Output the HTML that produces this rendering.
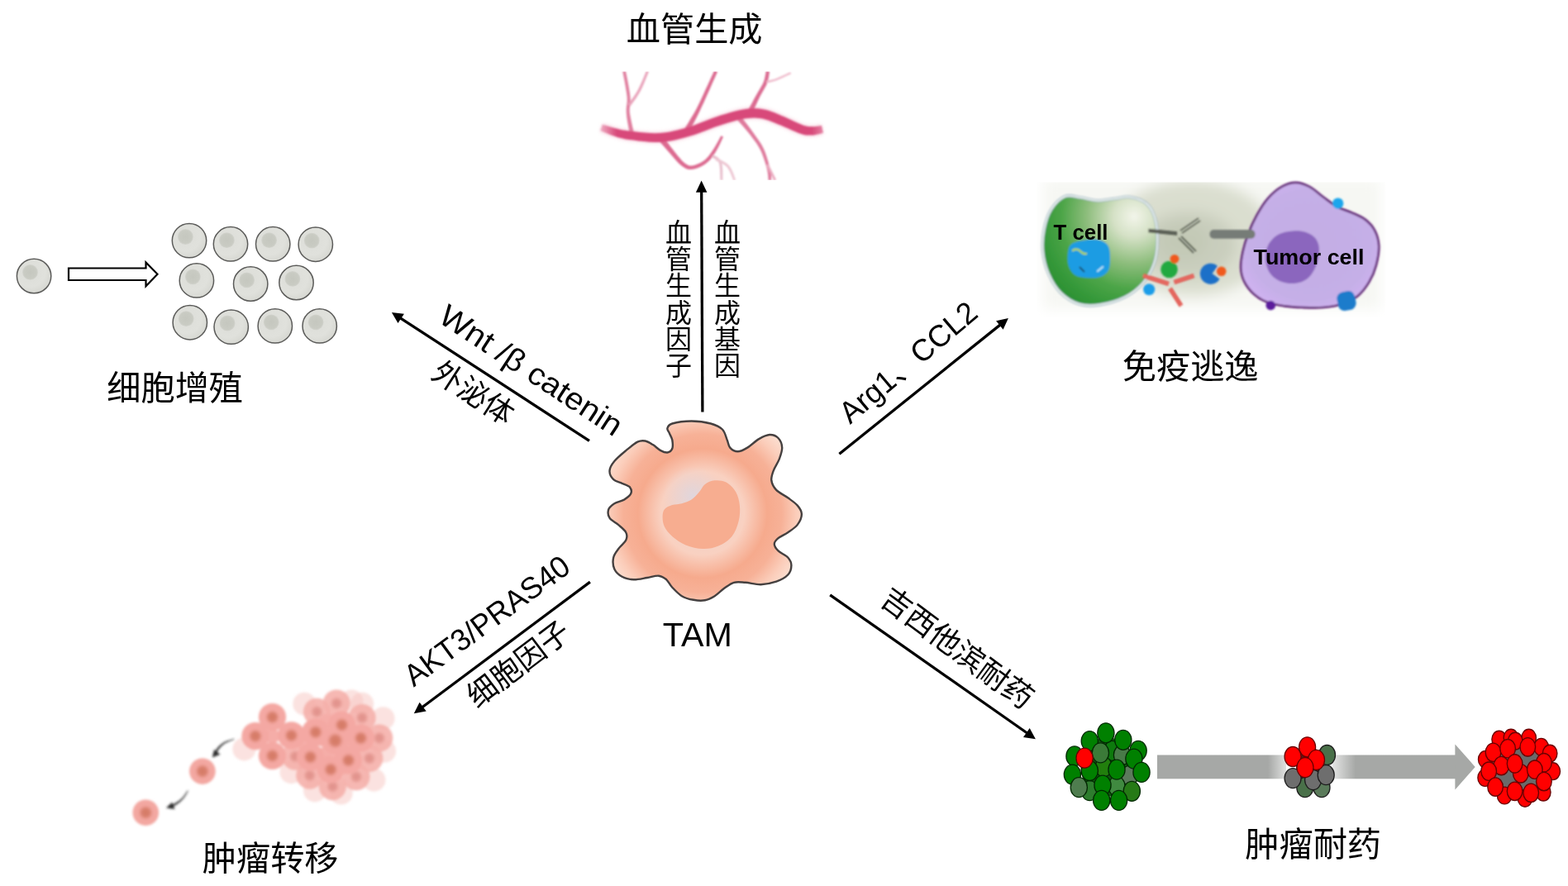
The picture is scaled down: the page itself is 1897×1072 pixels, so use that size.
<!DOCTYPE html>
<html lang="zh-CN">
<head>
<meta charset="utf-8">
<title>TAM</title>
<style>
html,body{margin:0;padding:0;background:#fff;}
body{width:1897px;height:1072px;overflow:hidden;}
svg{display:block;position:absolute;left:0;top:0;}
text{font-family:"Liberation Sans", "Noto Sans CJK SC", sans-serif;fill:#000;}
.cjk{font-family:"Liberation Sans","Noto Sans CJK SC",sans-serif;}
.b{font-weight:bold;}
</style>
</head>
<body>
<svg width="1897" height="1072" viewBox="0 0 1897 1072">
<defs>
<filter id="bl1" x="-10%" y="-30%" width="120%" height="160%"><feGaussianBlur stdDeviation="1.25"/></filter>
<filter id="bl2" x="-10%" y="-30%" width="120%" height="160%"><feGaussianBlur stdDeviation="2.2"/></filter>
<linearGradient id="gv" gradientUnits="userSpaceOnUse" x1="727" y1="0" x2="996" y2="0"><stop offset="0" stop-color="#d84a7a" stop-opacity="0.35"/><stop offset="0.07" stop-color="#d84a7a"/><stop offset="0.95" stop-color="#d84a7a"/><stop offset="1" stop-color="#d84a7a" stop-opacity="0.6"/></linearGradient>
<clipPath id="vclip"><rect x="722" y="86.5" width="280" height="131.5"/></clipPath>
<radialGradient id="gc" cx="0.38" cy="0.36" r="0.75">
<stop offset="0" stop-color="#dcddd8"/><stop offset="0.6" stop-color="#e0e1dc"/><stop offset="1" stop-color="#d3d4ce"/>
</radialGradient>
<radialGradient id="gn" cx="0.5" cy="0.5" r="0.5">
<stop offset="0" stop-color="#c5c7bf"/><stop offset="0.8" stop-color="#c9cbc3"/><stop offset="1" stop-color="#d2d3cd"/>
</radialGradient>
<filter id="blimg" x="-5%" y="-5%" width="110%" height="110%"><feGaussianBlur stdDeviation="0.8"/></filter>
<filter id="blbg" x="-20%" y="-20%" width="140%" height="140%"><feGaussianBlur stdDeviation="8"/></filter>
<filter id="bltx" x="-5%" y="-20%" width="110%" height="140%"><feGaussianBlur stdDeviation="0.55"/></filter>
<radialGradient id="gT" gradientUnits="userSpaceOnUse" cx="1372" cy="262" r="125">
<stop offset="0" stop-color="#f2f5ea"/><stop offset="0.2" stop-color="#d5e1c6"/><stop offset="0.46" stop-color="#8dbd7c"/><stop offset="0.7" stop-color="#4da548"/><stop offset="0.88" stop-color="#36993a"/><stop offset="1" stop-color="#2c9133"/>
</radialGradient>
<clipPath id="imclip"><rect x="1254" y="220.5" width="422" height="164"/></clipPath>
<radialGradient id="gTu" cx="0.5" cy="0.5" r="0.55">
<stop offset="0" stop-color="#c3aee4"/><stop offset="0.8" stop-color="#c5afe7"/><stop offset="1" stop-color="#cfb2f0"/>
</radialGradient>
<radialGradient id="gTam" gradientUnits="userSpaceOnUse" cx="850" cy="621" r="126">
<stop offset="0" stop-color="#f1d3ca"/><stop offset="0.28" stop-color="#f4d1c5"/><stop offset="0.40" stop-color="#f9d1c1"/><stop offset="0.50" stop-color="#f8bfa9"/><stop offset="0.62" stop-color="#f6aa8d"/><stop offset="0.76" stop-color="#f7b197"/><stop offset="0.9" stop-color="#fbcdba"/><stop offset="1" stop-color="#fcdccd"/>
</radialGradient>
<radialGradient id="gTamN" gradientUnits="userSpaceOnUse" cx="838" cy="600" r="36">
<stop offset="0" stop-color="#dfd6dd" stop-opacity="0.95"/><stop offset="1" stop-color="#e8d5d6" stop-opacity="0"/>
</radialGradient>
<filter id="bltam" x="-5%" y="-5%" width="110%" height="110%"><feGaussianBlur stdDeviation="0.6"/></filter>
<filter id="blm" x="-10%" y="-10%" width="120%" height="120%"><feGaussianBlur stdDeviation="1.6"/></filter>
<radialGradient id="gmn"><stop offset="0" stop-color="#d47863"/><stop offset="0.55" stop-color="#da8270"/><stop offset="1" stop-color="#f0a199" stop-opacity="0.2"/></radialGradient>
<radialGradient id="gmn2"><stop offset="0" stop-color="#e0908a"/><stop offset="0.55" stop-color="#e59a93"/><stop offset="1" stop-color="#f3aca6" stop-opacity="0.1"/></radialGradient>
<filter id="blr" x="-10%" y="-10%" width="120%" height="120%"><feGaussianBlur stdDeviation="0.6"/></filter>
<linearGradient id="gbar1" gradientUnits="userSpaceOnUse" x1="1400" y1="0" x2="1556" y2="0"><stop offset="0" stop-color="#a6a8a6"/><stop offset="0.86" stop-color="#a6a8a6"/><stop offset="1" stop-color="#a6a8a6" stop-opacity="0.35"/></linearGradient>
<linearGradient id="gbar2" gradientUnits="userSpaceOnUse" x1="1612" y1="0" x2="1640" y2="0"><stop offset="0" stop-color="#a6a8a6" stop-opacity="0.3"/><stop offset="1" stop-color="#a6a8a6"/></linearGradient>

</defs>
<g id="vessel" clip-path="url(#vclip)">
<path d="M725.7 159.3L728 160.3L731.3 161.7L735.3 163.3L739.4 164.9L743.3 166.3L746.5 167.3L749.5 168.1L752.7 169L756.6 169.7L761.4 170.4L767.5 171.2L774.7 172.1L782.7 173L791 173.5L799 173.4L806.6 172.6L813.9 171.4L821.2 169.8L828.3 168L835.4 166L842.7 163.7L850 161L857 158.2L863.9 155.6L870.4 153.3L877 151.3L883.5 149.3L889.7 147.5L895.6 146.1L901 145.1L905.8 144.5L910.1 144.2L914.1 144.2L918.1 144.5L922.1 145.1L926.2 146L930.5 147.4L935 149.2L939.7 151.2L944.5 153.1L949.3 155.2L954.3 157.4L959.4 159.7L964.4 161.8L968.9 163.5L972.9 164.5L976.3 165L979.4 165.1L981.9 165L984.4 164.9L987.3 164.5L990.3 163.9L992.9 163.2L994.9 162.6L996.3 162.2L993.7 150.4L992.2 150.7L990.1 151L987.9 151.4L985.7 151.7L983.6 151.7L981.5 151.8L979.6 151.8L977.8 151.6L975.8 151.3L973.1 150.5L969.5 149.2L965.1 147.2L960.1 144.8L954.9 142.4L949.9 140.3L945.2 138.2L940.4 136.1L935.5 134.1L930.3 132.3L924.9 130.9L919.7 130.2L914.7 129.8L909.6 129.8L904.3 130.1L898.6 130.9L892.5 132.1L886 133.8L879.4 135.7L872.7 137.9L866 140.1L859 142.5L852 145.3L845 148L838.1 150.6L831.4 152.8L824.7 154.7L818 156.4L811.3 157.9L804.8 159L798.2 159.6L791.3 159.7L783.8 159.4L776.2 158.7L769.1 157.9L763 157.2L758.5 156.7L755.2 156.2L752.5 155.7L749.8 155.1L746.7 154.3L743.1 153.4L739.1 152.3L735.2 151.1L731.8 150L729.3 149.3Z" fill="#f3b3c7" opacity="0.5" filter="url(#bl2)"/>
<g filter="url(#bl1)">
<path d="M767.5 163L766.6 159.2L765.3 153.7L763.9 147.5L762.7 141.4L761.8 136.2L761.7 132.3L762 129L762.4 125.7L762.7 121.9L762.5 117.2L761.7 111.1L760.5 103.9L759.1 96.5L757.8 90.1L756.9 85.7L753.3 86.3L754.1 90.8L755.4 97.3L756.7 104.6L757.9 111.7L758.7 117.6L758.8 121.8L758.5 125.3L758 128.6L757.7 132.2L757.8 136.6L758.3 142.1L759.3 148.4L760.5 154.7L761.5 160.2L762.1 164Z" fill="#e07f9f"/>
<path d="M762.7 128.5L764.3 126.1L766.7 122.8L769.4 118.9L772.2 114.6L774.8 110.3L777.1 105.5L779.5 100L781.7 94.6L783.6 89.9L784.9 86.6L782.1 85.4L780.7 88.7L778.8 93.4L776.5 98.7L774.1 104.1L771.8 108.7L769.4 112.8L766.6 116.9L763.8 120.8L761.4 124L759.7 126.3Z" fill="#e9a4bb"/>
<path d="M832.6 162.1L834.4 158.3L837.2 152.8L840.5 146.6L843.7 140.2L846.5 134.4L848.9 129.3L851.2 124.5L853.3 119.8L855.4 115.1L857.5 110.4L859.8 105.3L862.2 99.8L864.6 94.6L866.6 90L868.1 86.8L864.3 85.2L862.9 88.3L860.8 92.8L858.4 98.1L855.9 103.5L853.5 108.6L851.4 113.3L849.2 117.9L847.1 122.6L844.8 127.3L842.3 132.2L839.2 137.7L835.5 143.8L831.9 149.9L828.7 155.1L826.4 158.7Z" fill="#dc6a90"/>
<path d="M909.5 138.8L910.8 135.7L912.7 131.3L915 126.3L917.3 121.3L919.3 117L921.2 113.5L923.1 110.2L924.9 107.1L926.6 104L928 100.8L929.1 97.5L929.9 94L930.4 90.9L930.8 88.2L931.1 86.4L926.9 85.6L926.5 87.5L926.1 90.1L925.5 93.1L924.8 96.3L923.8 99.2L922.5 102L920.9 104.8L919.1 107.9L917.1 111.2L915.1 114.8L912.7 119L910.1 123.9L907.5 128.7L905.2 132.9L903.5 135.8Z" fill="#db6c92"/>
<path d="M927.5 100.6L929 100.2L931.2 99.8L933.8 99.1L936.7 98.3L939.7 97.3L943.2 95.8L947.2 94L951.2 92.1L954.7 90.4L957.2 89.2L956.2 87.2L953.7 88.3L950.2 89.9L946.2 91.8L942.2 93.6L938.9 94.9L936 95.9L933.2 96.6L930.6 97.2L928.5 97.6L926.9 98Z" fill="#efbacb"/>
<path d="M794.6 167.5L796.9 170L800 173.6L803.7 177.8L807.4 182L810.7 185.7L813.5 188.9L816.1 192.1L818.7 195L821.3 197.7L823.9 200L826.3 201.8L828.6 203.2L831 204.4L833.7 205L836.7 205L839.9 204.5L843.4 203.5L847 202L850.4 200.2L853.5 198.3L856.2 196.1L858.7 193.7L860.9 191L863 188.1L865.1 185L867.3 181.2L869.7 176.7L871.9 172.2L873.7 168.3L875 165.6L872.4 164.2L870.9 166.9L868.9 170.7L866.5 175L864 179.2L861.7 182.8L859.6 185.7L857.6 188.4L855.6 190.8L853.4 192.9L851.1 194.7L848.3 196.4L845.2 198L842 199.3L838.9 200.2L836.3 200.6L834.3 200.4L832.6 200L831 199.1L829.1 197.9L827.1 196.2L824.9 194.2L822.6 191.6L820.2 188.7L817.6 185.5L814.9 182.1L811.9 178.3L808.6 173.8L805.3 169.4L802.4 165.5L800.4 162.7Z" fill="#dc6a90"/>
<path d="M860.9 190.1L862.4 191L864.4 192L866.6 193.3L868.5 195L869.8 197.1L870.6 200.5L871 205.2L871.2 210.3L871.3 214.9L871.5 218L874.3 218L874.3 214.8L874.3 210.3L874.2 205.1L873.7 200L872.8 195.9L871 192.9L868.6 190.6L866.1 189.1L864.1 187.9L862.7 187.1Z" fill="#e8bfcd"/>
<path d="M865.4 193.9L867.6 194.9L870.6 196.4L873.9 198.1L877.1 200.1L879.6 202.3L881.6 205.2L883.5 208.8L885.1 212.7L886.4 216.1L887.4 218.5L890 217.5L889 215.1L887.8 211.6L886.2 207.6L884.2 203.6L882 200.3L879 197.6L875.5 195.4L872 193.5L869 192L867 190.9Z" fill="#edc6d2"/>
<path d="M890 142.9L892.5 145.6L896 149.6L900 154.1L904 158.8L907.5 163.1L910.4 166.9L913.1 170.5L915.6 174L917.9 177.7L920 181.6L922 186L923.8 191L925.5 196L926.9 200.7L928 204.8L928.7 208.3L929.2 211.4L929.4 214.1L929.5 216.4L929.7 218.1L933.1 217.9L933.1 216.2L933 213.9L932.8 211L932.4 207.7L931.6 204L930.5 199.7L929.2 194.9L927.6 189.7L925.8 184.6L923.8 179.8L921.6 175.6L919.2 171.7L916.6 167.9L913.9 164.2L911.1 160.3L907.9 155.8L904.1 150.8L900.4 145.9L897.2 141.7L895 138.7Z" fill="#df7a9c"/>
<path d="M926.8 200L928.3 202.8L930.4 207L932.8 211.6L934.9 215.8L936.4 218.7L939 217.3L937.6 214.5L935.5 210.3L933.1 205.6L931 201.4L929.6 198.6Z" fill="#eaaabf"/>
<path d="M726.2 157.9L728.1 158.7L730.6 159.8L733.7 161.1L737.1 162.4L740.5 163.7L743.7 164.8L746.4 165.7L748.8 166.4L751.4 167.1L754.2 167.7L757.5 168.4L761.6 169L766.5 169.6L772.4 170.4L778.8 171.1L785.5 171.7L792.3 172L798.9 171.9L805.1 171.3L811.3 170.4L817.3 169.2L823.2 167.8L829 166.2L834.9 164.6L841 162.7L847 160.5L853 158.2L858.8 155.9L864.5 153.8L869.9 151.9L875.4 150.2L880.9 148.5L886.2 146.9L891.4 145.6L896.2 144.4L900.7 143.6L904.9 143.1L908.6 142.7L912.1 142.6L915.5 142.7L918.9 143.1L922.4 143.6L925.9 144.4L929.5 145.5L933.3 146.9L937.1 148.5L941.1 150.2L945.1 151.8L949.1 153.4L953.3 155.3L957.5 157.2L961.7 159.1L965.7 160.7L969.4 162L972.6 162.9L975.5 163.4L978 163.6L980.3 163.6L982.3 163.5L984.3 163.4L986.7 163.1L989.1 162.6L991.3 162.1L993.3 161.5L994.9 161L996 160.7L994 151.9L992.8 152.1L991.1 152.4L989.3 152.7L987.4 153L985.5 153.2L983.7 153.2L981.9 153.2L980.2 153.3L978.6 153.2L977 153L975 152.6L972.6 152L969.6 150.8L966 149.3L962 147.4L957.8 145.4L953.5 143.4L949.3 141.6L945.4 140L941.5 138.2L937.4 136.5L933.3 134.9L929 133.5L924.6 132.4L920.4 131.7L916.3 131.3L912.1 131.2L907.9 131.3L903.6 131.7L898.9 132.4L893.8 133.4L888.6 134.7L883.1 136.2L877.6 137.9L872.1 139.6L866.5 141.5L860.7 143.5L854.9 145.7L849 148.1L843.2 150.3L837.5 152.4L831.9 154.2L826.2 155.8L820.5 157.3L814.9 158.6L809.4 159.7L803.8 160.6L798.3 161.1L792.5 161.3L786.2 161L779.8 160.5L773.6 159.9L767.8 159.2L762.8 158.6L758.9 158.2L755.9 157.8L753.5 157.4L751.3 157L748.9 156.4L746.3 155.8L743.3 155L740 154.1L736.6 153.1L733.5 152.1L730.8 151.3L728.8 150.7Z" fill="url(#gv)"/>
</g></g>
<g id="prolif">
<circle cx="41.1" cy="334" r="20.7" fill="url(#gc)" stroke="#5b5b59" stroke-width="1.5"/><circle cx="36.5" cy="329.4" r="9.4" fill="url(#gn)"/>
<circle cx="229" cy="291.1" r="20.7" fill="url(#gc)" stroke="#5b5b59" stroke-width="1.5"/><circle cx="224.4" cy="286.5" r="9.4" fill="url(#gn)"/>
<circle cx="279" cy="295.3" r="20.7" fill="url(#gc)" stroke="#5b5b59" stroke-width="1.5"/><circle cx="274.4" cy="290.7" r="9.4" fill="url(#gn)"/>
<circle cx="330.2" cy="295.3" r="20.7" fill="url(#gc)" stroke="#5b5b59" stroke-width="1.5"/><circle cx="325.6" cy="290.7" r="9.4" fill="url(#gn)"/>
<circle cx="381.8" cy="295.7" r="20.7" fill="url(#gc)" stroke="#5b5b59" stroke-width="1.5"/><circle cx="377.2" cy="291.1" r="9.4" fill="url(#gn)"/>
<circle cx="237.9" cy="339.4" r="20.7" fill="url(#gc)" stroke="#5b5b59" stroke-width="1.5"/><circle cx="233.3" cy="334.8" r="9.4" fill="url(#gn)"/>
<circle cx="303.2" cy="343.5" r="20.7" fill="url(#gc)" stroke="#5b5b59" stroke-width="1.5"/><circle cx="298.6" cy="338.9" r="9.4" fill="url(#gn)"/>
<circle cx="358.5" cy="342" r="20.7" fill="url(#gc)" stroke="#5b5b59" stroke-width="1.5"/><circle cx="353.9" cy="337.4" r="9.4" fill="url(#gn)"/>
<circle cx="229.8" cy="390.2" r="20.7" fill="url(#gc)" stroke="#5b5b59" stroke-width="1.5"/><circle cx="225.2" cy="385.6" r="9.4" fill="url(#gn)"/>
<circle cx="279.7" cy="395.6" r="20.7" fill="url(#gc)" stroke="#5b5b59" stroke-width="1.5"/><circle cx="275.1" cy="391" r="9.4" fill="url(#gn)"/>
<circle cx="332.8" cy="394.4" r="20.7" fill="url(#gc)" stroke="#5b5b59" stroke-width="1.5"/><circle cx="328.2" cy="389.8" r="9.4" fill="url(#gn)"/>
<circle cx="386.7" cy="394.4" r="20.7" fill="url(#gc)" stroke="#5b5b59" stroke-width="1.5"/><circle cx="382.1" cy="389.8" r="9.4" fill="url(#gn)"/>
<path d="M83 324.5H176.5V317.5L190.5 331.8L176.5 346.2V339H83Z" fill="#fff" stroke="#000" stroke-width="2.2" stroke-linejoin="miter"/>
</g>
<g id="immune">
<g clip-path="url(#imclip)"><g filter="url(#blbg)"><rect x="1262" y="216" width="408" height="158" fill="#f6f7f3"/><ellipse cx="1442" cy="288" rx="100" ry="70" fill="#dadecf"/><ellipse cx="1438" cy="296" rx="58" ry="40" fill="#c9cebd"/><ellipse cx="1432" cy="292" rx="30" ry="22" fill="#c3c9b6"/></g></g>
<g filter="url(#blimg)">
<path d="M1288.6 237.7C1294.5 235.3 1300.6 238.2 1307 239C1313.4 239.8 1320.4 242.4 1327.2 242.7C1334 242.9 1341.3 241.2 1348 240.5C1354.7 239.8 1360.9 237.4 1367.5 238.5C1374.1 239.6 1382.7 242.4 1387.7 246.9C1392.7 251.4 1395.6 257.6 1397.7 265.4C1399.8 273.2 1400.5 284.9 1400.2 293.9C1399.9 302.8 1398.9 311 1396 319.1C1393.1 327.2 1388.5 335.9 1382.6 342.6C1376.7 349.3 1369.5 355.1 1360.8 359.4C1352.1 363.7 1339.8 367.2 1330.6 368.6C1321.4 370 1313.2 370.2 1305.4 367.8C1297.6 365.4 1289.8 360.5 1283.6 354.4C1277.4 348.2 1272.1 339.3 1268.5 330.9C1264.9 322.5 1262.6 313 1261.8 304C1261 295 1261.7 285.5 1263.4 277.1C1265.1 268.7 1267.6 260.2 1271.8 253.6C1276 247 1282.7 240.1 1288.6 237.7Z" fill="url(#gT)" stroke="#9db6c2" stroke-width="3.6"/>
<path d="M1288.6 237.7C1294.5 235.3 1300.6 238.2 1307 239C1313.4 239.8 1320.4 242.4 1327.2 242.7C1334 242.9 1341.3 241.2 1348 240.5C1354.7 239.8 1360.9 237.4 1367.5 238.5C1374.1 239.6 1382.7 242.4 1387.7 246.9C1392.7 251.4 1395.6 257.6 1397.7 265.4C1399.8 273.2 1400.5 284.9 1400.2 293.9C1399.9 302.8 1398.9 311 1396 319.1C1393.1 327.2 1388.5 335.9 1382.6 342.6C1376.7 349.3 1369.5 355.1 1360.8 359.4C1352.1 363.7 1339.8 367.2 1330.6 368.6C1321.4 370 1313.2 370.2 1305.4 367.8C1297.6 365.4 1289.8 360.5 1283.6 354.4C1277.4 348.2 1272.1 339.3 1268.5 330.9C1264.9 322.5 1262.6 313 1261.8 304C1261 295 1261.7 285.5 1263.4 277.1C1265.1 268.7 1267.6 260.2 1271.8 253.6C1276 247 1282.7 240.1 1288.6 237.7Z" fill="none" stroke="#f6faf6" stroke-width="1.5"/>
<path d="M1317 290C1322.8 289.3 1328 289.7 1332 291C1336 292.3 1339.2 294.5 1341 298C1342.8 301.5 1343 307.2 1343 312C1343 316.8 1343 323.2 1341 327C1339 330.8 1335.3 333.5 1331 335C1326.7 336.5 1320 336.3 1315 336C1310 335.7 1304.7 335.3 1301 333C1297.3 330.7 1294.5 326.3 1293 322C1291.5 317.7 1291.3 311.5 1292 307C1292.7 302.5 1292.8 297.8 1297 295C1301.2 292.2 1311.2 290.7 1317 290Z" fill="#1e9ce3"/>
<path d="M1298 303q5-3 9 1t7 3" fill="none" stroke="#b5d84a" stroke-width="2.2" stroke-linecap="round"/>
<path d="M1306 323l6 6" stroke="#1c4f6a" stroke-width="2"/><path d="M1328 328l6-5" stroke="#bfe8f8" stroke-width="2.2" stroke-linecap="round"/>
<path d="M1567.5 220.9C1573.1 220.9 1578.7 223 1584.3 225.9C1589.9 228.8 1595.5 234.4 1601.1 238.5C1606.7 242.6 1612.3 247.2 1617.9 250.3C1623.5 253.4 1629.1 254.5 1634.7 257C1640.3 259.5 1646.7 261.8 1651.4 265.4C1656.2 269 1660.4 273.5 1663.2 278.8C1666 284.1 1667.9 290.3 1668.2 297.3C1668.5 304.3 1666.9 313.5 1664.9 320.8C1663 328.1 1660.1 334.8 1656.5 340.9C1652.9 347 1648.4 353.2 1643.1 357.7C1637.8 362.2 1631.6 365.4 1624.6 367.8C1617.6 370.2 1609.2 371.3 1601.1 372C1593 372.7 1583.7 372.3 1575.9 372C1568.1 371.7 1561.1 371.3 1554.1 370.3C1547.1 369.3 1540.1 368.5 1533.9 366.1C1527.7 363.7 1521.8 360.2 1517.1 356C1512.3 351.8 1508.1 346.2 1505.4 340.9C1502.8 335.6 1501.5 330.3 1501.2 324.2C1500.9 318.1 1502.2 311 1503.7 304C1505.2 297 1507.6 289.5 1510.4 282.2C1513.2 274.9 1516.6 267.4 1520.5 260.4C1524.4 253.4 1528.9 245.9 1533.9 240.2C1538.9 234.4 1545.1 229.1 1550.7 225.9C1556.3 222.7 1561.9 220.9 1567.5 220.9Z" fill="url(#gTu)" stroke="#642578" stroke-width="2.7"/>
<path d="M1564 279.5C1569.7 279 1575.3 279.4 1580 281C1584.7 282.6 1589.3 285.3 1592 289C1594.7 292.7 1596 297.5 1596 303C1596 308.5 1594.3 316.3 1592 322C1589.7 327.7 1586.3 333.5 1582 337C1577.7 340.5 1571.7 342.5 1566 343C1560.3 343.5 1553 342.2 1548 340C1543 337.8 1538.8 334.3 1536 330C1533.2 325.7 1531.3 319.5 1531 314C1530.7 308.5 1531.5 302 1534 297C1536.5 292 1541 286.9 1546 284C1551 281.1 1558.3 280 1564 279.5Z" fill="#8b66be"/>
<g stroke="#42473d" stroke-width="1.5" fill="none"><path d="M1389.5 277.5L1424 281M1389.5 280.5L1424 284"/><path d="M1389.5 279L1424 282.5" stroke-width="3.4" stroke="#5c6157"/><path d="M1428 279L1450 264M1430 282L1452 267"/><path d="M1426 288L1444 306M1429 286L1447 304"/></g>
<rect x="1463.5" y="278" width="55" height="10.8" rx="5" fill="#767c77"/>
<g stroke="#e14f46" fill="none"><path d="M1383 333.5L1414 343.5" stroke-width="5.2"/><path d="M1420.5 341.5L1444.5 333.5" stroke-width="5.2"/><path d="M1415.5 349L1429 370" stroke-width="5.2"/><path d="M1383 333.5L1414 343.5M1420.5 341.5L1444.5 333.5M1415.5 349L1429 370" stroke="#f0a39c" stroke-width="0.8"/></g>
<circle cx="1414.5" cy="326" r="10.3" fill="#22a93f"/><circle cx="1421" cy="313.3" r="5.4" fill="#f0591c"/><circle cx="1390.2" cy="350.2" r="7" fill="#1e9de8"/>
<path d="M1475.5 337.5A12.6 12.6 0 1 1 1473 322L1466.5 331Z" fill="#1f6fc8"/><circle cx="1477.7" cy="328.3" r="5.8" fill="#f05a1e"/>
<circle cx="1618.7" cy="246.1" r="6.7" fill="#1ea6ec"/><circle cx="1537.3" cy="369.5" r="5.8" fill="#5b1f9c"/>
<rect x="1618" y="352.5" width="22" height="23" rx="8" fill="#1b7ccb" transform="rotate(-12 1629 364)"/>
</g>
<g filter="url(#bltx)"><text class="b" x="1274.5" y="290.3" font-size="25.5" textLength="66" lengthAdjust="spacingAndGlyphs" fill="#0a0a0a">T cell</text>
<text class="b" x="1516.5" y="320" font-size="26.5" textLength="134" lengthAdjust="spacingAndGlyphs" fill="#170c2a">Tumor cell</text></g>
</g>
<g id="tam" filter="url(#bltam)">
<path d="M807.4 518.3C808 516.4 808.4 514 813.3 512.5C818.1 511 828.8 509.5 836.6 509.5C844.4 509.5 853.7 510.8 859.9 512.5C866.1 514.2 870.6 516.2 873.9 519.5C877.2 522.8 878.2 528.6 879.7 532.3C881.3 536 881.1 539.3 883.2 541.6C885.3 544 889 546.3 892.5 546.3C896 546.3 899.9 544.2 904.2 541.6C908.5 539.1 913.7 533.7 918.2 531.1C922.7 528.5 927.1 526.2 931 526C934.9 525.8 939 527.4 941.5 530C944 532.6 946 537.4 946.2 541.6C946.4 545.9 944.4 551 942.7 555.6C940.9 560.3 937.2 565.3 935.7 569.6C934.1 573.9 932.8 577.4 933.3 581.3C933.9 585.2 935.9 589.4 939.2 592.9C942.5 596.4 948.9 599.1 953.2 602.3C957.4 605.4 962 608.3 964.8 611.6C967.6 614.9 969.9 618.2 969.9 622.1C969.9 626 967.6 631.2 964.8 634.9C962 638.6 957 641.5 953.2 644.2C949.3 646.9 944.2 648.9 941.5 651.2C938.8 653.5 936.8 655.7 936.8 658.2C936.8 660.7 938.8 663.7 941.5 666.4C944.2 669.1 950.5 671.6 953.2 674.5C955.8 677.4 957.4 680.4 957.4 683.9C957.4 687.4 956.2 692.2 953.2 695.5C950.1 698.8 944.6 701.7 939.2 703.7C933.7 705.6 926.7 707 920.5 707.2C914.3 707.4 907.3 705.2 901.9 704.8C896.4 704.5 892.2 703.7 887.9 704.8C883.6 706 880.1 709.1 876.2 711.8C872.3 714.6 868.4 718.8 864.6 721.2C860.7 723.6 857.2 725.5 852.9 726.3C848.6 727.1 843.6 726.7 838.9 725.8C834.2 725 829.2 723.7 824.9 721.2C820.6 718.6 816.4 714 813.3 710.7C810.2 707.4 809 703.7 806.3 701.3C803.5 699 800.8 697.1 796.9 696.7C793.1 696.3 788 698.2 783 699C777.9 699.8 771.7 701.5 766.6 701.3C761.6 701.2 756.5 700 752.6 697.8C748.8 695.7 745.1 692.4 743.3 688.5C741.6 684.6 741.2 678.8 742.2 674.5C743.1 670.3 746.6 666.4 749.1 662.9C751.7 659.4 755.9 656.7 757.3 653.5C758.7 650.4 758.9 647.3 757.3 644.2C755.8 641.1 751.3 637.8 748 634.9C744.7 632 739.4 629.8 737.5 626.7C735.5 623.6 735.3 619.2 736.3 616.2C737.3 613.3 740.2 611.2 743.3 609.2C746.4 607.3 751.7 606.5 755 604.6C758.3 602.6 762 600.1 763.1 597.6C764.3 595.1 763.7 591.6 762 589.4C760.2 587.3 755.9 586.3 752.6 584.8C749.3 583.2 744.7 582.6 742.2 580.1C739.6 577.6 737.3 573.3 737.5 569.6C737.7 565.9 740 562 743.3 558C746.6 553.9 752.6 549 757.3 545.1C762 541.2 767.4 536.6 771.3 534.6C775.2 532.7 777.5 532.9 780.6 533.5C783.7 534.1 786.8 536.2 789.9 538.1C793.1 540.1 796.4 543.6 799.3 545.1C802.2 546.7 805.1 547.8 807.4 547.5C809.8 547.1 812.3 545.3 813.3 542.8C814.2 540.3 813.8 535.4 813.3 532.3C812.7 529.2 810.7 526.5 809.8 524.1C808.8 521.8 806.9 520.3 807.4 518.3Z" fill="url(#gTam)" stroke="#454140" stroke-width="2.4" stroke-linejoin="round"/>
<circle cx="838" cy="600" r="36" fill="url(#gTamN)"/>
<path d="M801.6 625.6C801.6 622.1 802 618.7 803.9 616.2C805.9 613.8 809.8 612.3 813.3 611.1C816.8 609.9 821 610.3 824.9 609.2C828.8 608.2 833.1 606.9 836.6 604.6C840.1 602.3 843.2 598.4 845.9 595.3C848.6 592.2 849.8 588.3 852.9 585.9C856 583.6 860.3 581.7 864.6 581.3C868.8 580.9 874.3 581.3 878.5 583.6C882.8 585.9 887.5 590.6 890.2 595.3C892.9 599.9 894.3 605.8 894.9 611.6C895.5 617.4 895.3 624 893.7 630.2C892.2 636.5 889.6 643.8 885.5 648.9C881.5 653.9 875.1 658 869.2 660.5C863.4 663.1 857.2 664.2 850.6 664C844 663.8 835.8 661.9 829.6 659.4C823.4 656.9 817.5 652.6 813.3 648.9C809 645.2 805.9 641.1 803.9 637.2C802 633.3 801.6 629.1 801.6 625.6Z" fill="#f7ad90"/>
</g>
<g id="meta" filter="url(#blm)">
<circle cx="295.4" cy="906.4" r="14" fill="#f8c6c1" opacity="0.5"/>
<circle cx="463.5" cy="869.2" r="14" fill="#f8c6c1" opacity="0.5"/>
<circle cx="425.4" cy="848.6" r="14" fill="#f8c6c1" opacity="0.5"/>
<circle cx="452.4" cy="943.7" r="14" fill="#f8c6c1" opacity="0.5"/>
<circle cx="381" cy="956.4" r="14" fill="#f8c6c1" opacity="0.5"/>
<circle cx="412.8" cy="959.6" r="14" fill="#f8c6c1" opacity="0.5"/>
<circle cx="352.5" cy="934.2" r="14" fill="#f8c6c1" opacity="0.5"/>
<circle cx="465.1" cy="908.8" r="14" fill="#f8c6c1" opacity="0.5"/>
<circle cx="438.1" cy="851.7" r="14" fill="#f8c6c1" opacity="0.5"/>
<circle cx="368.3" cy="851.7" r="14" fill="#f8c6c1" opacity="0.5"/>
<circle cx="383.4" cy="861.2" r="16.5" fill="#f5b0ab" opacity="0.9"/>
<circle cx="383.4" cy="861.2" r="8.5" fill="url(#gmn2)"/>
<circle cx="407.2" cy="850.9" r="16.5" fill="#f5b0ab" opacity="0.9"/>
<circle cx="407.2" cy="850.9" r="8.5" fill="url(#gmn2)"/>
<circle cx="438.1" cy="868.4" r="16.5" fill="#f5b0ab" opacity="0.9"/>
<circle cx="438.1" cy="868.4" r="8.5" fill="url(#gmn2)"/>
<circle cx="446.9" cy="917.5" r="16.5" fill="#f5b0ab" opacity="0.9"/>
<circle cx="446.9" cy="917.5" r="8.5" fill="url(#gmn2)"/>
<circle cx="431" cy="939.8" r="16.5" fill="#f5b0ab" opacity="0.9"/>
<circle cx="431" cy="939.8" r="8.5" fill="url(#gmn2)"/>
<circle cx="374.7" cy="938.2" r="16.5" fill="#f5b0ab" opacity="0.9"/>
<circle cx="374.7" cy="938.2" r="8.5" fill="url(#gmn2)"/>
<circle cx="402.4" cy="951.7" r="16.5" fill="#f5b0ab" opacity="0.9"/>
<circle cx="402.4" cy="951.7" r="8.5" fill="url(#gmn2)"/>
<circle cx="458.8" cy="893" r="16.5" fill="#f5b0ab" opacity="0.9"/>
<circle cx="458.8" cy="893" r="8.5" fill="url(#gmn2)"/>
<circle cx="357.2" cy="915.2" r="16.5" fill="#f5b0ab" opacity="0.9"/>
<circle cx="357.2" cy="915.2" r="8.5" fill="url(#gmn2)"/>
<circle cx="329.5" cy="890.6" r="9" fill="#f5ada8"/>
<circle cx="368.3" cy="899.3" r="9" fill="#f5ada8"/>
<circle cx="393.7" cy="912" r="9" fill="#f5ada8"/>
<circle cx="395.3" cy="872.3" r="9" fill="#f5ada8"/>
<circle cx="409.6" cy="908.8" r="9" fill="#f5ada8"/>
<circle cx="428.6" cy="905.7" r="9" fill="#f5ada8"/>
<circle cx="390.5" cy="894.5" r="9" fill="#f5ada8"/>
<circle cx="329.5" cy="867.6" r="16.6" fill="#f4a8a3"/>
<circle cx="308.9" cy="890.6" r="16.6" fill="#f4a8a3"/>
<circle cx="352.5" cy="889.8" r="16.6" fill="#f4a8a3"/>
<circle cx="329.5" cy="914.4" r="16.6" fill="#f4a8a3"/>
<circle cx="381.8" cy="885.8" r="16.6" fill="#f4a8a3"/>
<circle cx="413.5" cy="877.1" r="16.6" fill="#f4a8a3"/>
<circle cx="405.6" cy="896.1" r="16.6" fill="#f4a8a3"/>
<circle cx="375.5" cy="916" r="16.6" fill="#f4a8a3"/>
<circle cx="436.5" cy="893" r="16.6" fill="#f4a8a3"/>
<circle cx="421.5" cy="919.9" r="16.6" fill="#f4a8a3"/>
<circle cx="400.1" cy="931" r="16.6" fill="#f4a8a3"/>
<circle cx="329.5" cy="867.6" r="9.2" fill="url(#gmn)"/>
<circle cx="308.9" cy="890.6" r="9.2" fill="url(#gmn)"/>
<circle cx="352.5" cy="889.8" r="9.2" fill="url(#gmn)"/>
<circle cx="329.5" cy="914.4" r="9.2" fill="url(#gmn)"/>
<circle cx="381.8" cy="885.8" r="9.2" fill="url(#gmn)"/>
<circle cx="413.5" cy="877.1" r="9.2" fill="url(#gmn)"/>
<circle cx="405.6" cy="896.1" r="10.5" fill="url(#gmn)"/>
<circle cx="375.5" cy="916" r="9.2" fill="url(#gmn)"/>
<circle cx="436.5" cy="893" r="9.2" fill="url(#gmn)"/>
<circle cx="421.5" cy="919.9" r="9.2" fill="url(#gmn)"/>
<circle cx="400.1" cy="931" r="9.2" fill="url(#gmn)"/>
<circle cx="244.9" cy="933.2" r="15.8" fill="#f3a7a1"/><circle cx="244.9" cy="933.2" r="9.5" fill="url(#gmn)"/>
<circle cx="176.3" cy="983.2" r="15.8" fill="#f3a7a1"/><circle cx="176.3" cy="983.2" r="9.5" fill="url(#gmn)"/>
<path d="M283.4 893.9L281.2 894.5L278 895.4L274.6 896.5L271.6 897.8L269.2 899.2L267.1 900.9L265.2 902.6L263.6 904.3L262.2 906L261.1 907.8L260.3 909.3L259.7 910.4L261.9 911.6L262.5 910.5L263.2 909L264.2 907.3L265.4 905.7L266.8 904.1L268.4 902.4L270.3 900.7L272.4 899.2L275.1 897.9L278.4 896.6L281.5 895.5L283.6 894.7Z" fill="#2d2d2d"/>
<path d="M227.2 956.3L225.9 958L224.2 960.5L222.3 963.2L220.4 965.4L218.4 967.2L216.4 968.9L214.3 970.3L212.4 971.5L210.7 972.5L209 973.3L207.5 973.9L206.5 974.3L207.5 976.7L208.5 976.2L210 975.5L211.8 974.6L213.6 973.5L215.5 972.1L217.6 970.4L219.7 968.6L221.6 966.6L223.5 964L225.3 961.2L226.8 958.6L227.8 956.7Z" fill="#2d2d2d"/>
<path d="M256.8 916.5l2.2-9.5 7.5 5.8z" fill="#2a2a2a"/><path d="M201 977.6l7.2-6.8 3.3 8.2z" fill="#2a2a2a"/>
</g>
<g id="resist" filter="url(#blr)">
<rect x="1400" y="913.5" width="156" height="28.8" fill="url(#gbar1)"/>
<rect x="1612" y="913.5" width="150" height="28.8" fill="url(#gbar2)"/>
<path d="M1760.4 900.5L1784.7 927.9L1760.4 955.4Z" fill="#a6a8a6"/>
<ellipse cx="1339.5" cy="928" rx="32" ry="36" fill="#0d5a0d"/>
<ellipse cx="1585" cy="928" rx="17" ry="24" fill="#5a1a1a"/>
<ellipse cx="1345.7" cy="908.3" rx="10.1" ry="12" fill="#0a7a0a" stroke="#062a06" stroke-width="1.3"/>
<ellipse cx="1357.5" cy="913.5" rx="10.1" ry="12" fill="#4a7a48" stroke="#062a06" stroke-width="1.3"/>
<ellipse cx="1366.6" cy="938.4" rx="10.1" ry="12" fill="#5c7a5c" stroke="#062a06" stroke-width="1.3"/>
<ellipse cx="1335.3" cy="927.9" rx="10.1" ry="12" fill="#217f10" stroke="#062a06" stroke-width="1.3"/>
<ellipse cx="1318.3" cy="956.6" rx="10.1" ry="12" fill="#2e7d2e" stroke="#062a06" stroke-width="1.3"/>
<ellipse cx="1351" cy="951.4" rx="10.1" ry="12" fill="#3f8a3f" stroke="#062a06" stroke-width="1.3"/>
<ellipse cx="1337.9" cy="886.8" rx="10.1" ry="12" fill="#008000" stroke="#062a06" stroke-width="1.3"/>
<ellipse cx="1318.3" cy="896.6" rx="10.1" ry="12" fill="#008000" stroke="#062a06" stroke-width="1.3"/>
<ellipse cx="1358.8" cy="895.3" rx="10.1" ry="12" fill="#008000" stroke="#062a06" stroke-width="1.3"/>
<ellipse cx="1377.1" cy="908.3" rx="10.1" ry="12" fill="#008000" stroke="#062a06" stroke-width="1.3"/>
<ellipse cx="1300" cy="914.9" rx="10.1" ry="12" fill="#008000" stroke="#062a06" stroke-width="1.3"/>
<ellipse cx="1297.4" cy="937.1" rx="10.1" ry="12" fill="#008000" stroke="#062a06" stroke-width="1.3"/>
<ellipse cx="1371.9" cy="918.1" rx="10.1" ry="12" fill="#008000" stroke="#062a06" stroke-width="1.3"/>
<ellipse cx="1331.4" cy="910.9" rx="10.1" ry="12" fill="#3b7a38" stroke="#062a06" stroke-width="1.3"/>
<ellipse cx="1318.3" cy="932.5" rx="10.1" ry="12" fill="#008000" stroke="#062a06" stroke-width="1.3"/>
<ellipse cx="1351" cy="931.2" rx="10.1" ry="12" fill="#008000" stroke="#062a06" stroke-width="1.3"/>
<ellipse cx="1381" cy="934.4" rx="10.1" ry="12" fill="#008000" stroke="#062a06" stroke-width="1.3"/>
<ellipse cx="1305.3" cy="952.7" rx="10.1" ry="12" fill="#4f7d4f" stroke="#062a06" stroke-width="1.3"/>
<ellipse cx="1369.3" cy="957.3" rx="10.1" ry="12" fill="#277a17" stroke="#062a06" stroke-width="1.3"/>
<ellipse cx="1334" cy="950.1" rx="10.1" ry="12" fill="#008000" stroke="#062a06" stroke-width="1.3"/>
<ellipse cx="1332.7" cy="968.4" rx="10.1" ry="12" fill="#008000" stroke="#062a06" stroke-width="1.3"/>
<ellipse cx="1353.6" cy="968.4" rx="10.1" ry="12" fill="#008000" stroke="#062a06" stroke-width="1.3"/>
<ellipse cx="1312.1" cy="917.2" rx="10.1" ry="12" fill="#ff0000" stroke="#6a0000" stroke-width="1.3"/>
<ellipse cx="1578.8" cy="952.7" rx="10" ry="12" fill="#4a7048" stroke="#1e1e1e" stroke-width="1.3"/>
<ellipse cx="1599" cy="952.7" rx="10" ry="12" fill="#5a7a5a" stroke="#1e1e1e" stroke-width="1.3"/>
<ellipse cx="1605.5" cy="913.5" rx="10" ry="12" fill="#4a7048" stroke="#1e1e1e" stroke-width="1.3"/>
<ellipse cx="1564.1" cy="941.6" rx="10" ry="12" fill="#6e6e6e" stroke="#1e1e1e" stroke-width="1.3"/>
<ellipse cx="1588.6" cy="943.6" rx="10" ry="12" fill="#6e6e6e" stroke="#1e1e1e" stroke-width="1.3"/>
<ellipse cx="1604.2" cy="937.7" rx="10" ry="12" fill="#6e6e6e" stroke="#1e1e1e" stroke-width="1.3"/>
<ellipse cx="1564.1" cy="915.5" rx="10" ry="12" fill="#ff0000" stroke="#6a0000" stroke-width="1.3"/>
<ellipse cx="1581.6" cy="903.8" rx="10" ry="12" fill="#ff0000" stroke="#6a0000" stroke-width="1.3"/>
<ellipse cx="1592.5" cy="919.4" rx="10" ry="12" fill="#ff0000" stroke="#6a0000" stroke-width="1.3"/>
<ellipse cx="1579" cy="928.6" rx="10" ry="12" fill="#ff0000" stroke="#6a0000" stroke-width="1.3"/>
<ellipse cx="1837.5" cy="929" rx="40" ry="38" fill="#6a6a6a"/>
<ellipse cx="1813.7" cy="894.6" rx="8.8" ry="10.4" fill="#ff0000" stroke="#6a0000" stroke-width="1.4"/>
<ellipse cx="1828" cy="892.7" rx="8.8" ry="10.4" fill="#ff0000" stroke="#6a0000" stroke-width="1.4"/>
<ellipse cx="1849.6" cy="892.7" rx="8.8" ry="10.4" fill="#ff0000" stroke="#6a0000" stroke-width="1.4"/>
<ellipse cx="1833.2" cy="896.6" rx="8.8" ry="10.4" fill="#ff0000" stroke="#6a0000" stroke-width="1.4"/>
<ellipse cx="1864.6" cy="903.8" rx="8.8" ry="10.4" fill="#ff0000" stroke="#6a0000" stroke-width="1.4"/>
<ellipse cx="1875.1" cy="911.6" rx="8.8" ry="10.4" fill="#ff0000" stroke="#6a0000" stroke-width="1.4"/>
<ellipse cx="1797.3" cy="918.8" rx="8.8" ry="10.4" fill="#ff0000" stroke="#6a0000" stroke-width="1.4"/>
<ellipse cx="1878.7" cy="933.2" rx="8.8" ry="10.4" fill="#ff0000" stroke="#6a0000" stroke-width="1.4"/>
<ellipse cx="1796.7" cy="941" rx="8.8" ry="10.4" fill="#ff0000" stroke="#6a0000" stroke-width="1.4"/>
<ellipse cx="1867.2" cy="958.6" rx="8.8" ry="10.4" fill="#ff0000" stroke="#6a0000" stroke-width="1.4"/>
<ellipse cx="1820.2" cy="962.5" rx="8.8" ry="10.4" fill="#ff0000" stroke="#6a0000" stroke-width="1.4"/>
<ellipse cx="1845" cy="965.8" rx="8.8" ry="10.4" fill="#ff0000" stroke="#6a0000" stroke-width="1.4"/>
<ellipse cx="1806.5" cy="910.3" rx="9.3" ry="11.2" fill="#ff0000" stroke="#6a0000" stroke-width="1.4"/>
<ellipse cx="1824.1" cy="905.7" rx="9.3" ry="11.2" fill="#ff0000" stroke="#6a0000" stroke-width="1.4"/>
<ellipse cx="1848.3" cy="903.8" rx="9.3" ry="11.2" fill="#ff0000" stroke="#6a0000" stroke-width="1.4"/>
<ellipse cx="1867.9" cy="922.7" rx="9.3" ry="11.2" fill="#ff0000" stroke="#6a0000" stroke-width="1.4"/>
<ellipse cx="1816.3" cy="926.6" rx="9.3" ry="11.2" fill="#ff0000" stroke="#6a0000" stroke-width="1.4"/>
<ellipse cx="1839.8" cy="935.8" rx="9.3" ry="11.2" fill="#ff0000" stroke="#6a0000" stroke-width="1.4"/>
<ellipse cx="1832.6" cy="924" rx="9.3" ry="11.2" fill="#ff0000" stroke="#6a0000" stroke-width="1.4"/>
<ellipse cx="1801.2" cy="933.2" rx="9.3" ry="11.2" fill="#ff0000" stroke="#6a0000" stroke-width="1.4"/>
<ellipse cx="1856.8" cy="931.2" rx="9.3" ry="11.2" fill="#ff0000" stroke="#6a0000" stroke-width="1.4"/>
<ellipse cx="1809.1" cy="952.1" rx="9.3" ry="11.2" fill="#ff0000" stroke="#6a0000" stroke-width="1.4"/>
<ellipse cx="1832.6" cy="957.3" rx="9.3" ry="11.2" fill="#ff0000" stroke="#6a0000" stroke-width="1.4"/>
<ellipse cx="1852.2" cy="959.3" rx="9.3" ry="11.2" fill="#ff0000" stroke="#6a0000" stroke-width="1.4"/>
<ellipse cx="1867.9" cy="945.6" rx="9.3" ry="11.2" fill="#ff0000" stroke="#6a0000" stroke-width="1.4"/>
</g>
<g id="arrows">
<path d="M713 533.4L484.4 384.8" stroke="#000" stroke-width="3.3" fill="none"/><path d="M473.9 378L488.9 379.7L481.5 391Z" fill="#000"/>
<path d="M849.9 498.5L848.7 231.7" stroke="#000" stroke-width="3.3" fill="none"/><path d="M848.6 218.5L855.4 232.7L841.9 232.7Z" fill="#000"/>
<path d="M1015.4 549.2L1210.2 392.9" stroke="#000" stroke-width="3.3" fill="none"/><path d="M1219.9 385.1L1213.6 398.8L1205.1 388.3Z" fill="#000"/>
<path d="M713.9 704.1L510.8 855.7" stroke="#000" stroke-width="3.3" fill="none"/><path d="M500.8 863.2L507.6 849.7L515.7 860.5Z" fill="#000"/>
<path d="M1004.2 719.8L1242.7 887" stroke="#000" stroke-width="3.3" fill="none"/><path d="M1252.9 894.2L1238 892L1245.7 880.9Z" fill="#000"/>
</g>
<g id="labels" opacity="0.999">
<text class="cjk" x="757.8" y="49.7" font-size="41.2">血管生成</text>
<text class="cjk" x="129.3" y="483.8" font-size="41.2">细胞增殖</text>
<text class="cjk" x="1357.8" y="458" font-size="41.2">免疫逃逸</text>
<text class="cjk" x="244.8" y="1052.7" font-size="41.2">肿瘤转移</text>
<text class="cjk" x="1506.3" y="1035.8" font-size="41.2">肿瘤耐药</text>
<text x="801.8" y="782.2" font-size="41.5" textLength="84" lengthAdjust="spacingAndGlyphs">TAM</text>
<text class="cjk" x="805 805 805 805 805 805" y="292.9 325.1 357.3 389.5 421.7 453.9" font-size="32">血管生成因子</text>
<text class="cjk" x="864 864 864 864 864 864" y="292.9 325.1 357.3 389.5 421.7 453.9" font-size="32">血管生成基因</text>
<text x="0" y="0" text-anchor="middle" font-size="37.5" textLength="256" lengthAdjust="spacingAndGlyphs" transform="translate(635.6 458.7) rotate(33.2)">Wnt /β catenin</text>
<text class="cjk" x="0" y="0" text-anchor="middle" font-size="36.3" transform="translate(565.8 486) rotate(32.8)">外泌体</text>
<text x="0" y="0" text-anchor="middle" font-size="37" textLength="204.8" lengthAdjust="spacingAndGlyphs" transform="translate(1106.9 448.1) rotate(-40.1)">Arg1、CCL2</text>
<text x="0" y="0" text-anchor="middle" font-size="37" textLength="238.3" lengthAdjust="spacingAndGlyphs" transform="translate(596.4 761.2) rotate(-36.3)">AKT3/PRAS40</text>
<text class="cjk" x="0" y="0" text-anchor="middle" font-size="36.3" transform="translate(634.9 813.5) rotate(-37.2)">细胞因子</text>
<text class="cjk" x="0" y="0" text-anchor="middle" font-size="36.4" transform="translate(1150.5 794.5) rotate(36.5)">吉西他滨耐药</text>
</g>
</svg>
</body>
</html>
